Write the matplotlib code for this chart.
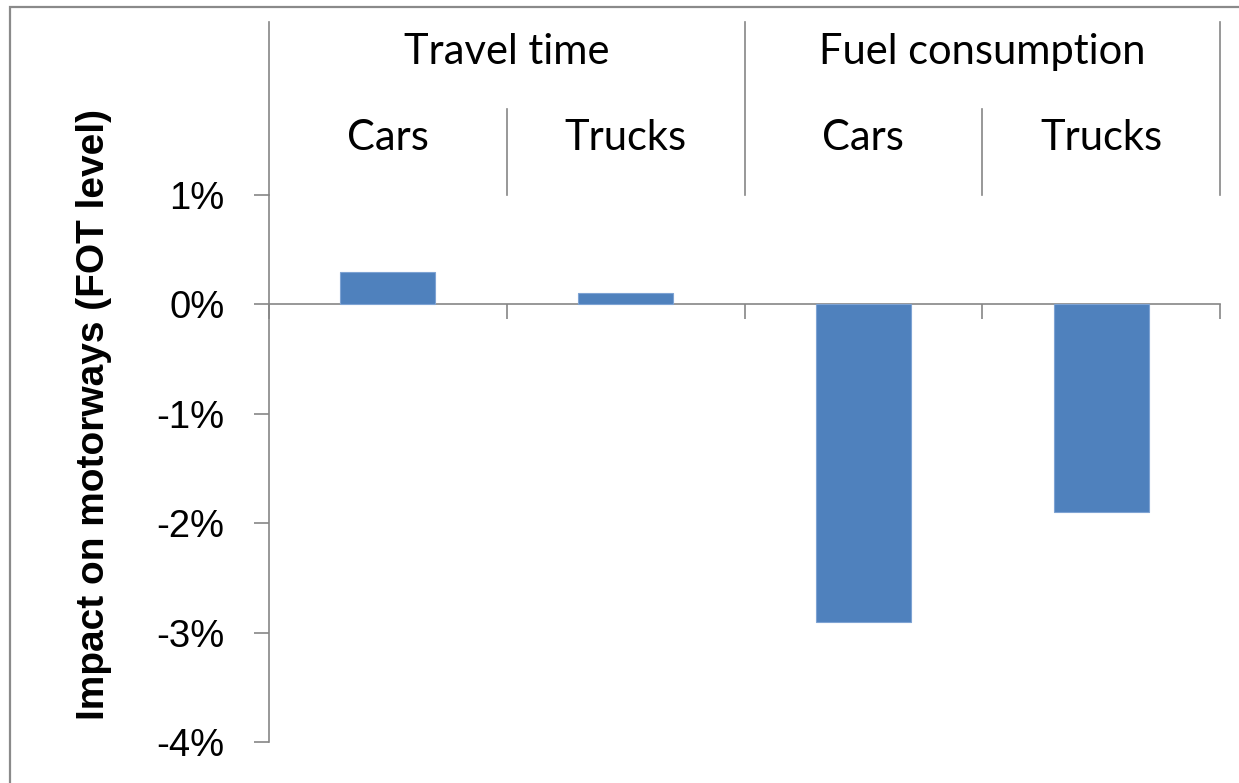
import matplotlib
matplotlib.use("Agg")
import matplotlib.pyplot as plt
from matplotlib.patches import Rectangle
from matplotlib.ticker import FuncFormatter

# impact per group / vehicle type, in percent
groups = ["Travel time", "Fuel consumption"]
vehicles = ["Cars", "Trucks"]
impact = [0.3, 0.1, -2.9, -1.9]
y_ticks = [1, 0, -1, -2, -3, -4]

W, H = 1239, 783
fig = plt.figure(figsize=(W / 100, H / 100), dpi=100)

# outer chart frame (runs off the right and bottom edges)
fig.patches.append(Rectangle((10 / W, -0.05), 1.1, 1 - 7 / H - (-0.05),
                             transform=fig.transFigure, fill=False,
                             edgecolor="#8a8a8a", linewidth=1.6))

ax_l, ax_r = 269 / W, 1220 / W
ax_b, ax_t = (H - 742) / H, (H - 195) / H
ax = fig.add_axes([ax_l, ax_b, ax_r - ax_l, ax_t - ax_b])

n = len(impact)
x = list(range(n))
ax.bar(x, impact, width=0.4, color="#4f81bd", edgecolor="#7ea3d3", linewidth=0.8, zorder=3)

ax.set_xlim(-0.5, n - 0.5)
ax.set_ylim(min(y_ticks), max(y_ticks))
ax.set_yticks(y_ticks)
ax.yaxis.set_major_formatter(FuncFormatter(lambda v, _: f"{v:.0f}%"))

grey = "#868686"
for side in ("top", "right"):
    ax.spines[side].set_visible(False)
ax.spines["left"].set_color(grey)
ax.spines["left"].set_linewidth(1.2)
ax.spines["bottom"].set_position(("data", 0))
ax.spines["bottom"].set_color(grey)
ax.spines["bottom"].set_linewidth(1.2)

ax.set_xticks([i - 0.5 for i in range(n + 1)])
ax.set_xticklabels([])
ax.tick_params(axis="x", direction="out", length=11, width=1.2, color=grey)
ax.tick_params(axis="y", direction="out", length=11, width=1.2, color=grey,
               pad=21, labelsize=27.5)
for lab in ax.get_yticklabels():
    lab.set_fontfamily("Liberation Sans")

ax.set_ylabel("Impact on motorways (FOT level)", fontsize=28, fontweight="bold",
              family="Liberation Sans")
ax.yaxis.set_label_coords(-0.165, (742 - 415) / (742 - 195))

# two-level category labels above the plot area
ax_h = 742 - 195
y_top = 1 + (195 - 22) / ax_h
y_mid = 1 + (195 - 109) / ax_h
y_group = 1 + (195 - 52) / ax_h
y_sub = 1 + (195 - 138) / ax_h
tr = ax.get_xaxis_transform()
lkw = dict(color=grey, linewidth=1.2, transform=tr, clip_on=False)

per_group = len(vehicles)
for g in range(len(groups) + 1):
    xb = g * per_group - 0.5
    ax.plot([xb, xb], [1, y_top], **lkw)
for g, name in enumerate(groups):
    left = g * per_group - 0.5
    ax.text(left + per_group / 2, y_group, name, transform=tr, ha="center", va="center",
            fontsize=30, family="Lato")
    for k in range(1, per_group):
        ax.plot([left + k, left + k], [1, y_mid], **lkw)
for i in range(n):
    ax.text(i, y_sub, vehicles[i % per_group], transform=tr, ha="center", va="center",
            fontsize=30, family="Lato")

fig.savefig("out.png", dpi=100)
